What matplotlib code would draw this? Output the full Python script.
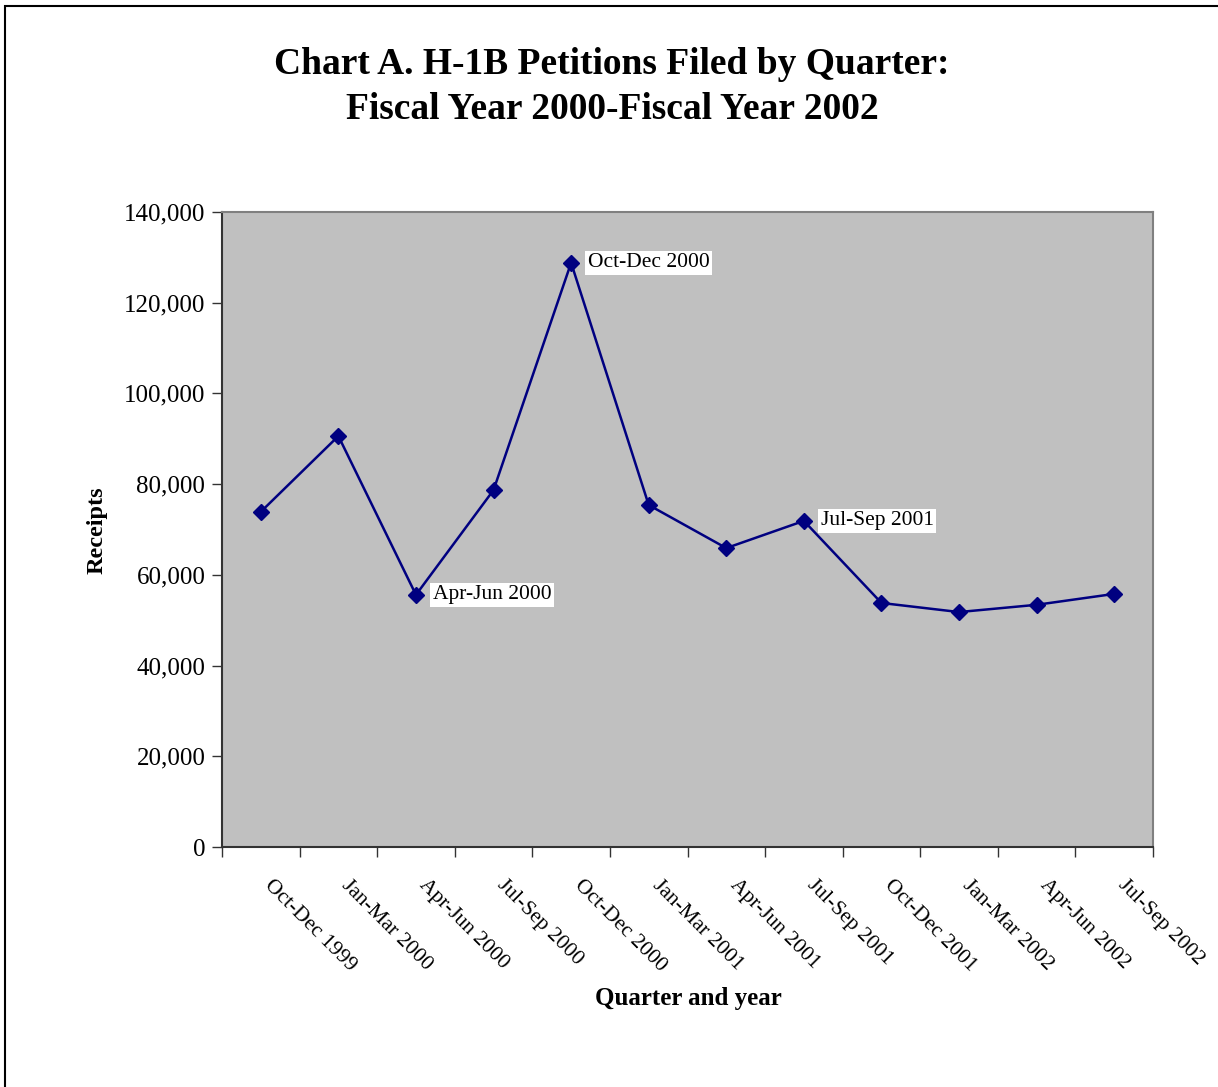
import numpy as np
import matplotlib.pyplot as plt
from matplotlib.patches import Rectangle

quarters = ['Oct-Dec 1999', 'Jan-Mar 2000', 'Apr-Jun 2000', 'Jul-Sep 2000',
            'Oct-Dec 2000', 'Jan-Mar 2001', 'Apr-Jun 2001', 'Jul-Sep 2001',
            'Oct-Dec 2001', 'Jan-Mar 2002', 'Apr-Jun 2002', 'Jul-Sep 2002']
receipts = [73900, 90600, 55600, 78700, 128800, 75400,
            65900, 71900, 53800, 51800, 53400, 55800]
labelled = ['Apr-Jun 2000', 'Oct-Dec 2000', 'Jul-Sep 2001']

plt.rcParams['font.family'] = ['Liberation Serif', 'DejaVu Serif']

fig = plt.figure(figsize=(12.18, 10.87), dpi=100)
# outer chart border (right/bottom edges are cut off in the original)
fig.patches.append(Rectangle((5/1218, -0.01), 1.02, 1 - 6/1087 + 0.01,
                             transform=fig.transFigure, fill=False,
                             edgecolor='black', linewidth=1.5))

ax = fig.add_axes([222/1218, 1 - 847/1087, (1153-222)/1218, (847-212)/1087])
ax.set_facecolor('#C0C0C0')

x = np.arange(len(quarters))
ax.plot(x, receipts, color='#000080', linewidth=1.8, marker='D',
        markersize=8, markerfacecolor='#000080', markeredgecolor='#000080')

for i, q in enumerate(quarters):
    if q in labelled:
        ax.annotate(q, (x[i], receipts[i]), xytext=(12, 0),
                    textcoords='offset points', ha='left', va='center',
                    fontsize=15.5,
                    bbox=dict(boxstyle='square,pad=0.12', facecolor='white',
                              edgecolor='none'))

ax.set_xlim(-0.5, len(quarters) - 0.5)
ax.set_ylim(0, 140000)
ax.set_yticks(np.arange(0, 140001, 20000))
ax.set_yticklabels(['{:,}'.format(v) for v in range(0, 140001, 20000)], fontsize=18)
ax.set_xticks(np.arange(-0.5, len(quarters), 1.0))
ax.set_xticklabels([])
ax.tick_params(axis='x', direction='out', length=7, width=1, color='#333333')
ax.tick_params(axis='y', direction='out', length=7, width=1, color='#333333', pad=5)

for i, q in enumerate(quarters):
    ax.text(x[i] + 0.08, -7800, q, rotation=-45, rotation_mode='anchor',
            ha='left', va='center', fontsize=15.5)

ax.spines['left'].set_color('#333333')
ax.spines['bottom'].set_color('#333333')
ax.spines['top'].set_color('#808080')
ax.spines['right'].set_color('#808080')
for s in ax.spines.values():
    s.set_linewidth(1.5)

fig.text(97/1218, 1 - 530/1087, 'Receipts', rotation=90, ha='center', va='center',
         fontsize=17.5, fontweight='bold')
fig.text(688/1218, 1 - 998/1087, 'Quarter and year', ha='center', va='center',
         fontsize=18, fontweight='bold')
fig.text(612/1218, 1 - 87/1087, 'Chart A. H-1B Petitions Filed by Quarter:\nFiscal Year 2000-Fiscal Year 2002',
         ha='center', va='center', fontsize=27, fontweight='bold', linespacing=1.4)

fig.savefig('out.png', dpi=100)
